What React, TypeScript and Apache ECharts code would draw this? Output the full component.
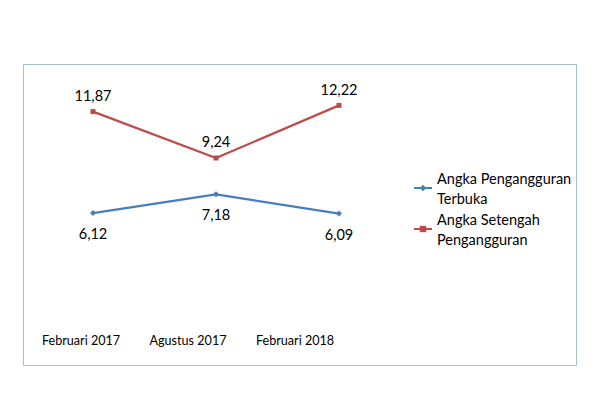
import React, { useEffect, useRef } from "react";
import * as echarts from "echarts";

const categories = ["Februari 2017", "Agustus 2017", "Februari 2018"];
const seriesNames = ["Angka Pengangguran Terbuka", "Angka Setengah Pengangguran"];
const legendLabels = ["Angka Pengangguran\nTerbuka", "Angka Setengah\nPengangguran"];
const terbuka = [6.12, 7.18, 6.09];
const setengah = [11.87, 9.24, 12.22];

const FONT = "Lato";
const FS = 14.5;

export default function App() {
  const ref = useRef<HTMLDivElement>(null);
  useEffect(() => {
    document.body.style.margin = "0";
    const chart = echarts.init(ref.current!, null, { renderer: "svg" });
    const fmt = (p: any) => String(p.value).replace(".", ",").replace(/,(\d)$/, ",$10");
    chart.setOption({
      animation: false,
      backgroundColor: "#ffffff",
      textStyle: { fontFamily: FONT },
      graphic: [
        {
          type: "rect",
          shape: { x: 23.5, y: 64.5, width: 553, height: 301 },
          style: { fill: "none", stroke: "#a9bdd8", lineWidth: 1 },
          z: 0,
        },
      ],
      grid: [
        { left: 31.5, width: 369, top: 74, height: 247 },
        { left: 27.5, width: 321, top: 74, height: 247 },
      ],
      xAxis: [
        {
          type: "category",
          gridIndex: 0,
          data: categories,
          axisLine: { show: false },
          axisTick: { show: false },
          axisLabel: { show: false },
        },
        {
          type: "category",
          gridIndex: 1,
          data: categories,
          axisLine: { show: false },
          axisTick: { show: false },
          axisLabel: { interval: 0, margin: 13, fontSize: 12.6, color: "#000", fontFamily: FONT },
        },
      ],
      yAxis: [
        { type: "value", gridIndex: 0, min: 0, max: 14, show: false },
        { type: "value", gridIndex: 1, min: 0, max: 14, show: false },
      ],
      legend: {
        orient: "vertical",
        left: 408,
        top: 153,
        itemWidth: 18,
        itemHeight: 8,
        itemGap: -19,
        data: seriesNames,
        formatter: (name: string) => legendLabels[seriesNames.indexOf(name)],
        textStyle: {
          fontSize: FS,
          lineHeight: 20,
          color: "#000",
          fontFamily: FONT,
          padding: [20, 0, 0, 0],
        },
      },
      series: [
        {
          name: seriesNames[0],
          type: "line",
          data: terbuka,
          symbol: "diamond",
          symbolSize: 6,
          itemStyle: { color: "#4a7ebb" },
          lineStyle: { color: "#4a7ebb", width: 2.25 },
          label: {
            show: true,
            position: "bottom",
            distance: 10,
            fontSize: FS,
            color: "#000",
            fontFamily: FONT,
            formatter: fmt,
          },
        },
        {
          name: seriesNames[1],
          type: "line",
          data: setengah,
          symbol: "rect",
          symbolSize: 5,
          itemStyle: { color: "#be4b48" },
          lineStyle: { color: "#be4b48", width: 2.25 },
          label: {
            show: true,
            position: "top",
            distance: 6,
            fontSize: FS,
            color: "#000",
            fontFamily: FONT,
            formatter: fmt,
          },
        },
      ],
    });
    return () => chart.dispose();
  }, []);
  return (
    <div
      ref={ref}
      style={{ position: "absolute", left: 0, top: 0, width: 600, height: 400 }}
    />
  );
}
